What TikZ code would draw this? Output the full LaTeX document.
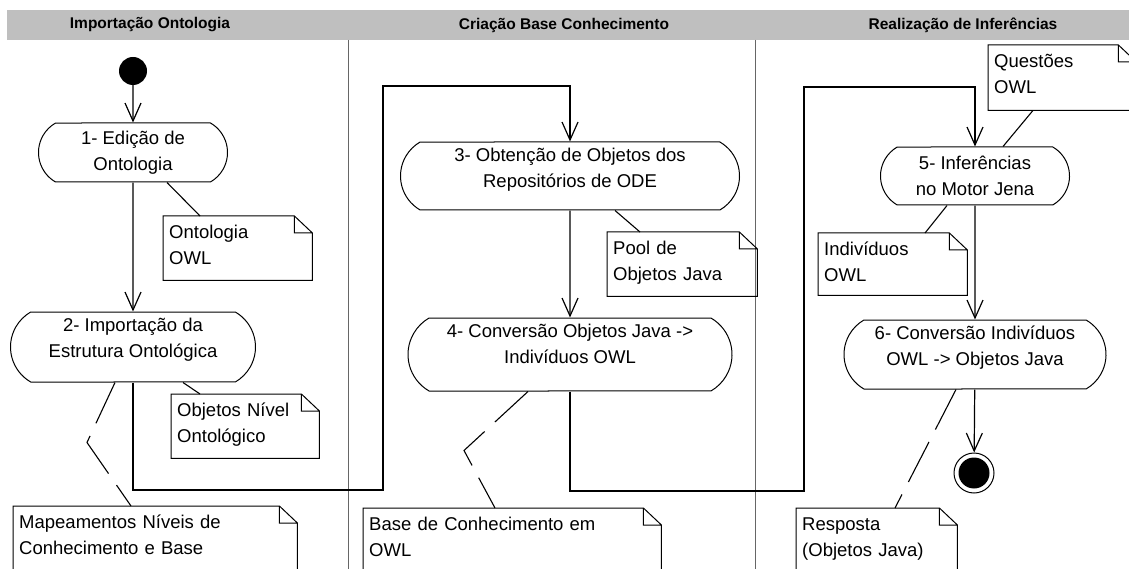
\documentclass[tikz,border=0pt]{standalone}
\usepackage{fontspec}
\setmainfont{Liberation Sans}
\usetikzlibrary{arrows.meta}
\usetikzlibrary{positioning,shapes.misc}
\tikzset{
    activity/.style={
        draw,
        rounded rectangle,
        rounded rectangle arc length=120,
        align=center,
        inner sep=2pt,
        line width=1pt,
        font=\fontsize{18.5}{26.5}\selectfont
    },
    memo/.style={
        anchor=north west,
        align=left,
        inner xsep=6pt,
        inner ysep=6.5pt,
        text height=16pt,
        text depth=35pt,
        font=\fontsize{18.5}{26}\selectfont
    },
    flow/.style={
        -{Straight Barb[length=18pt, width=16pt]},
        line width=1.2pt
    },
    link/.style={line width=1.1pt},
    dashedlink/.style={link, dash pattern=on 45pt off 14pt},
    lanetitle/.style={font=\fontsize{15.5}{18}\selectfont\bfseries}
}

\begin{document}
\begin{tikzpicture}[x=1pt, y=-1pt]
    \useasboundingbox (0,0) rectangle (1129,569);
    \clip (0,0) rectangle (1129,569);

    % Swimlanes
    \fill[black!25] (7,10) rectangle (1129,40);
    \draw[black!60, line width=1pt] (348,40) -- (348,569) (755,40) -- (755,569);
    \node[lanetitle] (h1) at (150,25) {Importação Ontologia};
    \node[lanetitle] (h2) at (564,25) {Criação Base Conhecimento};
    \node[lanetitle] (h3) at (963,25) {Realização de Inferências};

    % Activities
    \node[circle, fill, minimum size=28pt, inner sep=0pt] (start) at (133,71) {};
    \node[activity, minimum width=193pt, minimum height=59pt] (a1) at (133,152.5) {1- Edição de\\Ontologia};
    \node[activity, minimum width=249pt, minimum height=70pt, text height=40.5pt, text depth=19.5pt] (a2) at (133,347) {2- Importação da\\Estrutura Ontológica};
    \node[activity, minimum width=343pt, minimum height=68pt, text height=40.5pt, text depth=16.5pt] (a3) at (570,176) {3- Obtenção de Objetos dos\\Repositórios de ODE};
    \node[activity, minimum width=328pt, minimum height=73pt, text height=40.5pt, text depth=22.5pt] (a4) at (570,354.5) {4- Conversão Objetos Java ->\\Indivíduos OWL};
    \node[activity, minimum width=193pt, minimum height=58pt] (a5) at (975,176) {5- Inferências\\no Motor Jena};
    \node[activity, minimum width=266pt, minimum height=69pt, text height=40.5pt, text depth=18.5pt] (a6) at (975,354.5) {6- Conversão Indivíduos\\OWL -> Objetos Java};
    \node[circle, draw, line width=1pt, minimum size=40pt, inner sep=0pt,
          path picture={\fill (path picture bounding box.center) circle (15.5pt);}] (end) at (974,473) {};

    % Notes
    \node[memo, text width=137pt] (mOnt) at (163,216) {Ontologia\\OWL};
    \node[memo, text width=136pt] (mObj) at (171,394) {Objetos Nível\\Ontológico};
    \node[memo, text width=272pt, text depth=80pt] (mMap) at (13,506) {Mapeamentos Níveis de\\Conhecimento e Base};
    \node[memo, text width=138pt] (mPool) at (607,232) {Pool de\\Objetos Java};
    \node[memo, text width=286pt, text depth=80pt] (mBase) at (363,508) {Base de Conhecimento em\\OWL};
    \node[memo, text width=136pt, text depth=36pt] (mQ) at (988,45) {Questões\\OWL};
    \node[memo, text width=137pt, text depth=33pt] (mInd) at (818,233) {Indivíduos\\OWL};
    \node[memo, text width=149pt, text depth=80pt] (mResp) at (796,508) {Resposta\\(Objetos Java)};
    \foreach \m in {mOnt,mObj,mMap,mPool,mBase,mQ,mInd,mResp}
        \draw[line width=1pt] (\m.north west) -- ([xshift=-18pt]\m.north east)
            -- ([yshift=-17pt]\m.north east) -- (\m.south east) -- (\m.south west) -- cycle
            ([xshift=-18pt]\m.north east) |- ([yshift=-17pt]\m.north east);

    % Control flow
    \coordinate (b1) at (383,490);
    \coordinate (b2) at (383,86);
    \coordinate (b3) at (804,491);
    \coordinate (b4) at (804,87);
    \draw[flow] (start) -- (a1);
    \draw[flow] (a1) -- (a2);
    \draw[flow] (a2) |- (b1) -- (b2) -| (a3);
    \draw[flow] (a3) -- (a4);
    \draw[flow] (a4) |- (b3) -- (b4) -| (a5);
    \draw[flow] (a5) -- (a6);
    \draw[flow] (a6) -- (end);

    % Object links
    \draw[link] ([xshift=34pt]a1.south) -- ([xshift=37pt]mOnt.north west);
    \draw[link] ([xshift=50pt]a2.south) -- ([xshift=29pt]mObj.north west);
    \draw[dashedlink] ([xshift=-18pt]a2.south) -- ++(-28,60) -- ([xshift=118pt]mMap.north west);
    \draw[link] ([xshift=45pt]a3.south) -- ([xshift=33pt]mPool.north west);
    \draw[dashedlink] ([xshift=-42pt]a4.south) -- ++(-64,59) -- ([xshift=132pt]mBase.north west);
    \draw[link] ([xshift=28pt]a5.north) -- ([xshift=45pt]mQ.south west);
    \draw[link] ([xshift=-28pt]a5.south) -- ([xshift=107pt]mInd.north west);
    \draw[dashedlink] ([xshift=-19pt]a6.south) -- ([xshift=99pt]mResp.north west);
\end{tikzpicture}
\end{document}
